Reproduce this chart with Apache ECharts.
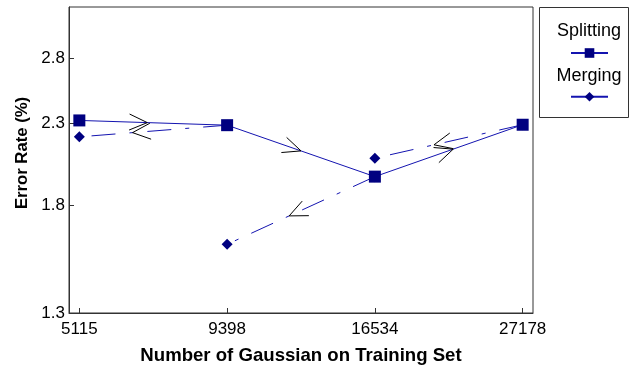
<!DOCTYPE html>
<html>
<head>
<meta charset="utf-8">
<script src="https://cdn.jsdelivr.net/npm/echarts@6/dist/echarts.min.js"></script>
<style>
  html, body { margin: 0; padding: 0; background: #fff; }
  #main { width: 630px; height: 370px; }
</style>
</head>
<body>
<div id="main"></div>
<script>
// x positions are the 4 training set sizes, drawn evenly spaced
let xLabels = ["5115", "9398", "16534", "27178"];
let yTicks = [1.3, 1.8, 2.3, 2.8];

// error rate (%) per model size
let splitting = [2.323, 2.29, 1.961, 2.293];
// merging goes right -> left, '-' breaks the line
let mergingPath = [
    [3, 2.293], [2, 2.073], [2, "-"],
    [2, 1.961], [1, 1.599], [1, "-"],
    [1, 2.29], [0, 2.211]
];

let font = "'Liberation Sans', Arial, sans-serif";
let navy = "#000080";
let lineBlue = "#1414b0";

// where the arrow tip sits along each segment (split first, then merge)
let arrowAt = [0.46, 0.5, 0.53, 0.6, 0.58, 0.64];

// arrow segments [x1, y1, x2, y2, t] built from the series
let arrowSegs = [];
for (let i = 0; i < splitting.length - 1; i++) {
    arrowSegs.push([i, splitting[i], i + 1, splitting[i + 1]]);
}
for (let i = 0; i < mergingPath.length - 1; i++) {
    let a = mergingPath[i], b = mergingPath[i + 1];
    if (a[1] === "-" || b[1] === "-") continue;
    arrowSegs.push([a[0], a[1], b[0], b[1]]);
}
arrowSegs.forEach((s, i) => s.push(arrowAt[i]));

function renderArrow(params, api) {
    let p1 = api.coord([api.value(0), api.value(1)]);
    let p2 = api.coord([api.value(2), api.value(3)]);
    let t = api.value(4);
    let dx = p2[0] - p1[0], dy = p2[1] - p1[1];
    let len = Math.sqrt(dx * dx + dy * dy);
    let ux = dx / len, uy = dy / len;
    let nx = -uy, ny = ux;
    let tip = [p1[0] + dx * t, p1[1] + dy * t];
    let back = 18, half = 8;
    return {
        type: "polyline",
        shape: {
            points: [
                [tip[0] - back * ux + half * nx, tip[1] - back * uy + half * ny],
                tip,
                [tip[0] - back * ux - half * nx, tip[1] - back * uy - half * ny]
            ]
        },
        style: { stroke: "#000", lineWidth: 1, fill: null }
    };
}

let chart = echarts.init(document.getElementById("main"));
let option = {
    animation: false,
    backgroundColor: "#fff",
    textStyle: { fontFamily: font },
    grid: {
        left: 69, right: 97, top: 7, bottom: 53,
        show: true, borderColor: "#333", borderWidth: 1
    },
    legend: {
        orient: "vertical",
        left: 565, top: 42,
        itemWidth: 37, itemHeight: 12, itemGap: 33,
        formatter: () => "",
        selectedMode: false,
        data: [
            { name: "Splitting" },
            { name: "Merging", lineStyle: { type: "solid" } }
        ]
    },
    graphic: [
        {
            type: "rect", left: 539, top: 7, z: 0,
            shape: { width: 89, height: 110 },
            style: { fill: "#fff", stroke: "#333", lineWidth: 1 }
        },
        {
            type: "text", x: 589, y: 31, z: 10,
            style: { text: "Splitting", font: "18px " + font, fill: "#000", align: "center", verticalAlign: "middle" }
        },
        {
            type: "text", x: 589, y: 76, z: 10,
            style: { text: "Merging", font: "18px " + font, fill: "#000", align: "center", verticalAlign: "middle" }
        }
    ],
    xAxis: {
        type: "value",
        min: -0.07, max: 3.07,
        name: "Number of Gaussian on Training Set",
        nameLocation: "middle",
        nameGap: 33,
        nameTextStyle: { fontSize: 18.6, fontWeight: "bold", color: "#000" },
        axisLine: { lineStyle: { color: "#333" } },
        axisTick: { inside: true, length: 5, customValues: [0, 1, 2, 3], lineStyle: { color: "#333" } },
        axisLabel: {
            customValues: [0, 1, 2, 3],
            formatter: v => xLabels[Math.round(v)],
            fontSize: 17, color: "#000", margin: 8
        },
        splitLine: { show: false }
    },
    yAxis: {
        type: "log",
        logBase: 10,
        min: 1.3, max: 3.27,
        name: "Error Rate (%)",
        nameLocation: "middle",
        nameGap: 31,
        nameTextStyle: { fontSize: 16.7, fontWeight: "bold", color: "#000", padding: [0, 0, 0, 14] },
        axisLine: { show: true, onZero: false, lineStyle: { color: "#333" } },
        axisTick: { show: true, inside: true, length: 5, customValues: yTicks, lineStyle: { color: "#333" } },
        axisLabel: {
            customValues: yTicks,
            formatter: v => v.toFixed(1),
            fontSize: 17, color: "#000", margin: 4
        },
        splitLine: { show: false }
    },
    series: [
        {
            name: "Merging",
            type: "line",
            z: 2,
            data: mergingPath,
            connectNulls: false,
            symbol: "diamond",
            symbolSize: 11,
            itemStyle: { color: navy },
            lineStyle: { color: lineBlue, width: 1, type: [24, 14, 4, 14] }
        },
        {
            name: "Splitting",
            type: "line",
            z: 3,
            data: splitting.map((v, i) => [i, v]),
            symbol: "rect",
            symbolSize: 12,
            itemStyle: { color: navy },
            lineStyle: { color: lineBlue, width: 1 }
        },
        {
            name: "arrows",
            type: "custom",
            z: 4,
            renderItem: renderArrow,
            data: arrowSegs,
            silent: true
        }
    ]
};
chart.setOption(option);
</script>
</body>
</html>
